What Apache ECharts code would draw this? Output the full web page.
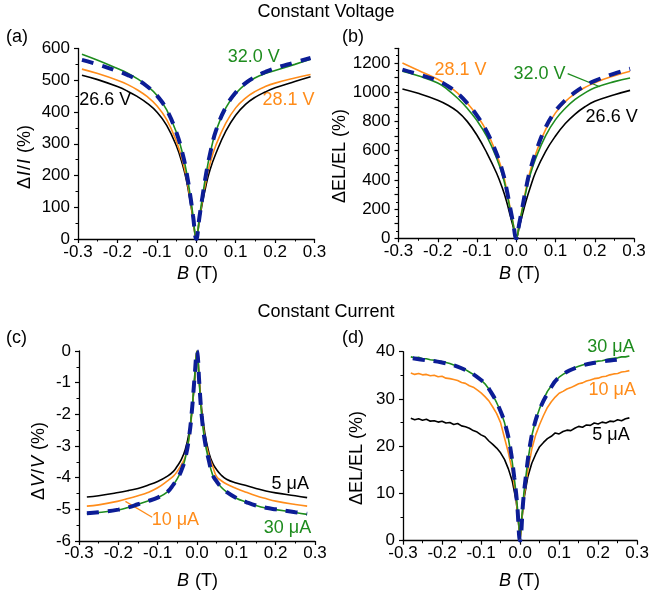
<!DOCTYPE html>
<html>
<head>
<meta charset="utf-8">
<title>Magnetic field effect at constant voltage and constant current</title>
<script src="https://cdn.jsdelivr.net/npm/echarts@6/dist/echarts.min.js"></script>
<style>
  html, body { margin: 0; padding: 0; background: #fff; }
  #chart { width: 652px; height: 594px; }
</style>
</head>
<body>
<div id="chart"></div>
<script>
// ---------- magnetic field samples (T) ----------
const B_AB = [-0.29, -0.25, -0.2, -0.175, -0.15, -0.125, -0.1, -0.075, -0.05, -0.035, -0.025, -0.015, -0.008, 0,
              0.008, 0.015, 0.025, 0.035, 0.05, 0.075, 0.1, 0.125, 0.15, 0.175, 0.2, 0.25, 0.29];
const B_C = [-0.28, -0.25, -0.2, -0.175, -0.15, -0.125, -0.1, -0.075, -0.06, -0.05, -0.04, -0.03, -0.02, -0.012, -0.006, 0,
             0.006, 0.012, 0.02, 0.03, 0.04, 0.05, 0.06, 0.075, 0.1, 0.125, 0.15, 0.175, 0.2, 0.25, 0.28];
const B_D = [-0.28, -0.27, -0.26, -0.25, -0.24, -0.23, -0.22, -0.21, -0.2, -0.19, -0.18, -0.17, -0.16, -0.15,
             -0.14, -0.13, -0.12, -0.11, -0.1, -0.09, -0.08, -0.07, -0.06, -0.05, -0.04, -0.03, -0.02, -0.01,
             -0.005, 0, 0.005,
             0.01, 0.02, 0.03, 0.04, 0.05, 0.06, 0.07, 0.08, 0.09, 0.1, 0.11, 0.12, 0.13, 0.14,
             0.15, 0.16, 0.17, 0.18, 0.19, 0.2, 0.21, 0.22, 0.23, 0.24, 0.25, 0.26, 0.27, 0.28];
const B_FIT_D = [-0.275, -0.25, -0.2, -0.15, -0.1, -0.075, -0.05, -0.035, -0.025, -0.015, -0.008, 0,
                 0.008, 0.015, 0.025, 0.035, 0.05, 0.075, 0.1, 0.15, 0.2, 0.25, 0.27];

// ---------- (a) current change, constant voltage (%) ----------
const A_266V = [516, 502, 480, 466, 449, 428, 400, 358, 292, 235, 185, 117, 62, 0,
                58, 110, 170, 218, 270, 340, 390, 424, 447, 463, 476, 496, 511];
const A_281V = [535, 521, 500, 487, 470, 449, 420, 376, 306, 247, 194, 123, 65, 0,
                63, 118, 185, 238, 296, 365, 413, 444, 465, 480, 491, 507, 518];
const A_320V = [582, 563, 537, 523, 505, 483, 453, 407, 334, 270, 212, 135, 72, 0,
                68, 127, 205, 268, 340, 413, 458, 488, 508, 521, 531, 550, 566];
const A_FIT  = [564, 550, 529, 517, 502, 481, 452, 407, 334, 270, 212, 135, 72, 0,
                68, 127, 205, 268, 341, 415, 461, 491, 511, 526, 538, 556, 570];

// ---------- (b) EL change, constant voltage (%) ----------
const B_266V = [1022, 992, 945, 912, 868, 800, 705, 585, 445, 340, 255, 152, 80, 0,
                80, 155, 255, 342, 457, 595, 700, 785, 850, 900, 937, 982, 1012];
const B_281V = [1200, 1150, 1088, 1047, 995, 925, 840, 730, 575, 455, 340, 200, 105, 0,
                105, 200, 340, 455, 580, 745, 858, 935, 990, 1032, 1065, 1112, 1143];
const B_320V = [1143, 1112, 1063, 1018, 960, 890, 805, 697, 548, 432, 322, 190, 100, 0,
                100, 190, 322, 430, 550, 703, 812, 890, 950, 995, 1030, 1072, 1097];
const B_FIT  = [1154, 1122, 1078, 1042, 993, 925, 840, 730, 578, 457, 342, 202, 106, 0,
                106, 202, 345, 462, 592, 760, 870, 945, 1000, 1043, 1077, 1127, 1160];

// ---------- (c) voltage change, constant current (%) ----------
const C_5uA  = [-4.61, -4.57, -4.47, -4.41, -4.34, -4.24, -4.12, -3.95, -3.8, -3.63, -3.43, -3.12, -2.57, -1.77, -0.92, 0,
                -0.95, -1.85, -2.6, -3.2, -3.55, -3.75, -3.9, -4.05, -4.17, -4.25, -4.34, -4.42, -4.48, -4.57, -4.63];
const C_10uA = [-4.9, -4.86, -4.74, -4.66, -4.57, -4.47, -4.32, -4.1, -3.95, -3.8, -3.6, -3.35, -2.75, -1.8, -0.85, 0,
                -1.0, -1.95, -2.75, -3.3, -3.65, -3.97, -4.08, -4.2, -4.34, -4.46, -4.57, -4.66, -4.74, -4.85, -4.9];
const C_30uA = [-5.14, -5.1, -5.02, -4.94, -4.84, -4.74, -4.63, -4.45, -4.22, -4.03, -3.78, -3.4, -2.7, -1.75, -0.8, 0,
                -1.05, -2.05, -2.85, -3.45, -3.92, -4.12, -4.28, -4.45, -4.65, -4.77, -4.88, -4.96, -5.01, -5.1, -5.16];
const C_FIT  = [-5.12, -5.09, -5.01, -4.94, -4.84, -4.74, -4.63, -4.45, -4.22, -4.03, -3.78, -3.4, -2.7, -1.75, -0.8, 0,
                -1.05, -2.05, -2.85, -3.45, -3.92, -4.12, -4.28, -4.45, -4.64, -4.77, -4.88, -4.95, -5.0, -5.09, -5.14];

// ---------- (d) EL change, constant current (%) ----------
const D_5uA = [25.9, 25.6, 25.8, 25.5, 25.7, 25.3, 25.4, 25.1, 25.3, 24.9, 25.0, 24.6, 24.8, 24.3,
               24.1, 23.8, 23.3, 23.0, 22.4, 22.0, 21.1, 20.4, 19.6, 18.6, 17.2, 15.2, 12.6, 8.4,
               4.5, 0.3, 4.8,
               8.9, 13.6, 16.4, 18.3, 19.9, 20.8, 21.6, 22.1, 22.8, 22.6, 23.1, 23.4, 23.3, 23.8,
               24.2, 24.0, 24.5, 24.4, 24.9, 24.7, 25.1, 24.9, 25.3, 25.2, 25.6, 25.4, 25.8, 26.0];
const D_10uA = [35.5, 35.2, 35.4, 35.1, 35.2, 34.9, 35.0, 34.7, 34.8, 34.4, 34.3, 34.1, 33.9, 33.5,
                33.3, 32.8, 32.5, 31.9, 31.3, 30.5, 29.6, 28.3, 26.9, 25.0, 21.8, 18.6, 14.8, 8.8,
                4.7, 0.2, 5.0,
                9.3, 15.0, 19.4, 22.4, 24.6, 26.5, 28.2, 29.4, 30.4, 31.2, 31.6, 32.1, 32.4, 32.8,
                33.2, 33.4, 33.8, 34.0, 34.3, 34.4, 34.7, 34.8, 35.1, 35.3, 35.4, 35.7, 35.8, 36.0];
const D_30uA = [38.9, 38.7, 38.8, 38.5, 38.5, 38.3, 38.2, 38.0, 37.9, 37.7, 37.5, 37.2, 36.9, 36.6,
                36.2, 35.7, 35.2, 34.6, 34.0, 33.2, 32.1, 30.8, 29.2, 27.4, 25.0, 21.6, 16.6, 9.9,
                5.3, 0.3, 5.6,
                10.4, 17.0, 22.2, 25.6, 28.0, 29.9, 31.6, 32.8, 33.8, 34.6, 35.2, 35.7, 36.1, 36.6,
                36.9, 37.2, 37.4, 37.6, 37.8, 38.0, 38.1, 38.3, 38.5, 38.6, 38.7, 38.9, 38.9, 39.1];
const D_FIT = [38.6, 38.3, 37.7, 36.5, 34.0, 31.5, 27.4, 23.6, 19.6, 13.4, 8.2, 0,
               8.4, 13.8, 20.0, 24.0, 27.8, 31.8, 34.6, 36.8, 37.8, 38.3, 38.5];

// ---------- styling ----------
const FONT = "'Liberation Sans', Arial, Helvetica, sans-serif";
const BLACK = '#000000';
const ORANGE = '#ff8c1a';
const GREEN = '#1e8c1e';
const FIT = '#0c1d96';

const chart = echarts.init(document.getElementById('chart'), null, { renderer: 'canvas' });

const pairs = (xs, ys) => xs.map((x, i) => [x, ys[i]]);

function xAxisFor(gridIndex, margin) {
  return {
    type: 'value', gridIndex, min: -0.3, max: 0.3, interval: 0.1,
    axisLine: { show: true, onZero: false, lineStyle: { color: '#000', width: 1.3 } },
    axisTick: { show: true, inside: false, length: 4, lineStyle: { color: '#000', width: 1.2 } },
    minorTick: { show: true, splitNumber: 2, length: 2.5, lineStyle: { color: '#000', width: 1 } },
    splitLine: { show: false },
    axisLabel: {
      margin, fontFamily: FONT, fontSize: 17, color: '#000',
      formatter: v => (Math.abs(v) < 1e-9 ? 0 : v).toFixed(1)
    }
  };
}

function yAxisFor(gridIndex, min, max, interval, labelStep) {
  return {
    type: 'value', gridIndex, min, max, interval,
    axisLine: { show: true, onZero: false, lineStyle: { color: '#000', width: 1.3 } },
    axisTick: { show: true, inside: false, length: 4, lineStyle: { color: '#000', width: 1.2 } },
    minorTick: { show: true, splitNumber: 2, length: 2.5, lineStyle: { color: '#000', width: 1 } },
    splitLine: { show: false },
    axisLabel: {
      margin: 8, fontFamily: FONT, fontSize: 17, color: '#000',
      formatter: v => (Math.abs(Math.round(v / labelStep) * labelStep - v) < 1e-9 ? String(Math.round(v)) : '')
    }
  };
}

function curve(idx, xs, ys, color, smooth) {
  return {
    type: 'line', xAxisIndex: idx, yAxisIndex: idx, data: pairs(xs, ys),
    showSymbol: false, smooth: smooth ? 0.45 : false, silent: true, z: 2,
    lineStyle: { color, width: 1.6 }, itemStyle: { color }
  };
}

function fitCurve(idx, xs, ys) {
  return {
    type: 'line', xAxisIndex: idx, yAxisIndex: idx, data: pairs(xs, ys),
    showSymbol: false, smooth: 0.45, silent: true, z: 5,
    lineStyle: { color: FIT, width: 4, type: [12, 9], cap: 'butt' }, itemStyle: { color: FIT }
  };
}

chart.setOption({
  animation: false,
  backgroundColor: '#ffffff',
  grid: [
    { left: 78, top: 48.5, width: 236.5, height: 190.5 },
    { left: 398.5, top: 48.3, width: 235.5, height: 190 },
    { left: 79, top: 351, width: 236, height: 190 },
    { left: 403, top: 351.7, width: 237, height: 189 }
  ],
  xAxis: [xAxisFor(0, 5), xAxisFor(1, 5), xAxisFor(2, 4), xAxisFor(3, 4)],
  yAxis: [
    yAxisFor(0, 0, 600, 100, 100),
    yAxisFor(1, 0, 1300, 100, 200),
    yAxisFor(2, -6, 0, 1, 1),
    yAxisFor(3, 0, 40, 10, 10)
  ],
  series: [
    curve(0, B_AB, A_266V, BLACK, true),
    curve(0, B_AB, A_281V, ORANGE, true),
    curve(0, B_AB, A_320V, GREEN, true),
    fitCurve(0, B_AB, A_FIT),

    curve(1, B_AB, B_266V, BLACK, true),
    curve(1, B_AB, B_281V, ORANGE, true),
    curve(1, B_AB, B_320V, GREEN, true),
    fitCurve(1, B_AB, B_FIT),

    curve(2, B_C, C_5uA, BLACK, true),
    curve(2, B_C, C_10uA, ORANGE, true),
    curve(2, B_C, C_30uA, GREEN, true),
    fitCurve(2, B_C, C_FIT),

    curve(3, B_D, D_5uA, BLACK, false),
    curve(3, B_D, D_10uA, ORANGE, false),
    curve(3, B_D, D_30uA, GREEN, false),
    fitCurve(3, B_FIT_D, D_FIT)
  ]
});

// ---------- annotations (placed in each panel's data coordinates) ----------
const CURVE_LABELS = [
  { grid: 0, at: [0.146, 573], text: '32.0 V', color: GREEN },
  { grid: 0, at: [0.234, 438], text: '28.1 V', color: ORANGE },
  { grid: 0, at: [-0.231, 438], text: '26.6 V', color: BLACK },
  { grid: 1, at: [-0.142, 1154], text: '28.1 V', color: ORANGE },
  { grid: 1, at: [0.059, 1127], text: '32.0 V', color: GREEN },
  { grid: 1, at: [0.243, 831], text: '26.6 V', color: BLACK },
  { grid: 2, at: [0.237, -4.21], text: '5 μA', color: BLACK },
  { grid: 2, at: [-0.055, -5.35], text: '10 μA', color: ORANGE },
  { grid: 2, at: [0.23, -5.6], text: '30 μA', color: GREEN },
  { grid: 3, at: [0.233, 41.0], text: '30 μA', color: GREEN },
  { grid: 3, at: [0.236, 31.9], text: '10 μA', color: ORANGE },
  { grid: 3, at: [0.233, 22.4], text: '5 μA', color: BLACK }
];
const LEADERS = [
  { grid: 1, from: [0.131, 1127], to: [0.213, 1037], color: GREEN },
  { grid: 2, from: [-0.114, -5.25], to: [-0.182, -4.75], color: ORANGE }
];

const toPx = (grid, pt) => chart.convertToPixel({ gridIndex: grid }, pt);
const graphics = [];

CURVE_LABELS.forEach(l => {
  const p = toPx(l.grid, l.at);
  graphics.push({
    type: 'text', x: p[0], y: p[1], silent: true,
    style: { text: l.text, fill: l.color, font: `18px ${FONT}`, textAlign: 'center', textVerticalAlign: 'middle' }
  });
});
LEADERS.forEach(l => {
  const a = toPx(l.grid, l.from), b = toPx(l.grid, l.to);
  graphics.push({
    type: 'line', silent: true,
    shape: { x1: a[0], y1: a[1], x2: b[0], y2: b[1] },
    style: { stroke: l.color, lineWidth: 1.3 }
  });
});

// section headings and panel letters
const plainText = (text, x, y, align) => ({
  type: 'text', x, y, silent: true,
  style: { text, fill: '#000', font: `18px ${FONT}`, textAlign: align, textVerticalAlign: 'middle' }
});
graphics.push(plainText('Constant Voltage', 326, 12, 'center'));
graphics.push(plainText('Constant Current', 326, 312, 'center'));
graphics.push(plainText('(a)', 6, 37, 'left'));
graphics.push(plainText('(b)', 342, 37, 'left'));
graphics.push(plainText('(c)', 6, 338, 'left'));
graphics.push(plainText('(d)', 342, 338, 'left'));

// axis titles with italic symbols
const RICH = { i: { fontStyle: 'italic', fontFamily: FONT, fontSize: 18, fill: '#000', padding: [0, 1] } };
const axisTitle = (text, x, y, vertical) => ({
  type: 'text', x, y, rotation: vertical ? Math.PI / 2 : 0, silent: true,
  style: {
    text, fill: '#000', fontFamily: FONT, fontSize: 18,
    textAlign: 'center', textVerticalAlign: 'middle', rich: RICH
  }
});
graphics.push(axisTitle('{i|B} (T)', 197, 274, false));
graphics.push(axisTitle('{i|B} (T)', 519, 274, false));
graphics.push(axisTitle('{i|B} (T)', 197, 581, false));
graphics.push(axisTitle('{i|B} (T)', 519, 581, false));
graphics.push(axisTitle('Δ{i|I}/{i|I} (%)', 25, 157, true));
graphics.push(axisTitle('ΔEL/EL (%)', 340, 156, true));
graphics.push(axisTitle('Δ{i|V}/{i|V} (%)', 39, 461, true));
graphics.push(axisTitle('ΔEL/EL (%)', 357, 458, true));

chart.setOption({ graphic: graphics });
</script>
</body>
</html>
